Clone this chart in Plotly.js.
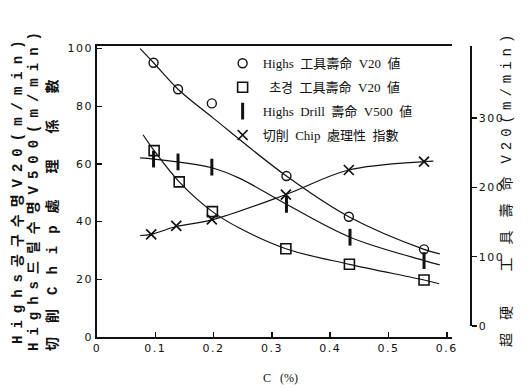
<!DOCTYPE html>
<html>
<head>
<meta charset="utf-8">
<script src="https://cdn.plot.ly/plotly-3.0.1.min.js"></script>
<style>
  html, body { margin: 0; padding: 0; background: #fff; }
  #chart { width: 528px; height: 388px; }
  .xtick text, .ytick text, .y2tick text { letter-spacing: 1.5px; }
</style>
</head>
<body>
<div id="chart"></div>
<script>
// Carbon content (%) of each steel grade, per measured series
const highsCarbon = [0.097, 0.139, 0.197, 0.325, 0.432, 0.561];
const carbideCarbon = [0.098, 0.141, 0.198, 0.324, 0.433, 0.561];
const drillCarbon = [0.097, 0.139, 0.197, 0.325, 0.434, 0.561];
const chipCarbon = [0.093, 0.136, 0.197, 0.324, 0.432, 0.561];

// Measured values
const highsToolLife = [95.1, 85.9, 81.0, 55.8, 41.7, 30.4];      // Highs tool life V20 (m/min)
const carbideToolLife = [253, 208, 165, 111.5, 89, 66.4];        // carbide tool life V20 (m/min), right axis
const drillLife = [61.7, 60.7, 58.9, 46.0, 34.6, 26.5];          // Highs drill life V500 (m/min)
const chipIndex = [35.6, 38.5, 40.8, 49.4, 57.9, 60.8];          // chip handling index

// Hand-drawn trend curves through each series
const highsCurveX = [0.074, 0.097, 0.139, 0.200, 0.325, 0.432, 0.561, 0.588];
const highsCurveY = [100, 95.1, 85.9, 75.8, 55.8, 41.7, 30.4, 28.8];
const carbideCurveX = [0.079, 0.098, 0.141, 0.198, 0.245, 0.324, 0.433, 0.561, 0.587];
const carbideCurveY = [276, 253, 208, 165, 141, 111.5, 89, 66.4, 61];
const drillCurveX = [0.074, 0.097, 0.139, 0.197, 0.245, 0.325, 0.434, 0.561, 0.588];
const drillCurveY = [62.1, 61.7, 60.7, 58.7, 55.0, 46.0, 34.6, 26.5, 25.0];
const chipCurveX = [0.074, 0.093, 0.136, 0.197, 0.324, 0.432, 0.561, 0.577];
const chipCurveY = [35.2, 35.6, 38.3, 40.6, 49.4, 57.9, 60.8, 61.0];

// Axis ticks and labels
const xTicks = [0, 0.1, 0.2, 0.3, 0.4, 0.5, 0.6];
const yTicks = [0, 20, 40, 60, 80, 100];
const y2Ticks = [0, 100, 200, 300];

const legendNames = [
  'Highs\u00a0\u00a0工具壽命\u00a0\u00a0V20\u00a0\u00a0値',
  '\u00a0\u00a0초경\u00a0\u00a0工具壽命\u00a0\u00a0V20\u00a0\u00a0値',
  'Highs\u00a0\u00a0Drill\u00a0\u00a0壽命\u00a0\u00a0V500\u00a0\u00a0値',
  '切削\u00a0\u00a0Chip\u00a0\u00a0處理性\u00a0\u00a0指數'
];

const ink = '#111';
const curveLine = { color: ink, width: 1.2, shape: 'spline', smoothing: 1 };

function curve(x, y, yaxis) {
  return { x, y, yaxis, type: 'scatter', mode: 'lines', line: curveLine,
           showlegend: false, hoverinfo: 'skip' };
}
function points(x, y, yaxis, name, group, marker) {
  return { x, y, yaxis, name, legendgroup: group, type: 'scatter', mode: 'markers',
           marker: Object.assign({ color: ink }, marker) };
}

const data = [
  curve(highsCurveX, highsCurveY, 'y'),
  curve(carbideCurveX, carbideCurveY, 'y2'),
  curve(drillCurveX, drillCurveY, 'y'),
  curve(chipCurveX, chipCurveY, 'y'),
  points(highsCarbon, highsToolLife, 'y', legendNames[0], 'a',
         { symbol: 'circle-open', size: 9, line: { color: ink, width: 1.4 } }),
  points(carbideCarbon, carbideToolLife, 'y2', legendNames[1], 'b',
         { symbol: 'square-open', size: 10, line: { color: ink, width: 1.6 } }),
  points(drillCarbon, drillLife, 'y', legendNames[2], 'c',
         { symbol: 'line-ns', size: 12, line: { color: ink, width: 3 } }),
  points(chipCarbon, chipIndex, 'y', legendNames[3], 'd',
         { symbol: 'x-thin-open', size: 10, line: { color: ink, width: 1.7 } })
];

const titleFont = { family: 'Liberation Mono, Noto Sans CJK KR, monospace', size: 14, color: ink, weight: 'bold' };
const tickFont = { family: 'DejaVu Sans, sans-serif', size: 11, color: ink };

function sideTitle(text, x, y, font) {
  return { text, xref: 'paper', yref: 'paper', x, y, xanchor: 'center', yanchor: 'middle',
           textangle: -90, showarrow: false, font };
}

const layout = {
  width: 528, height: 388,
  margin: { l: 97, r: 56, t: 46, b: 51 },
  paper_bgcolor: '#fff', plot_bgcolor: 'rgba(0,0,0,0)',
  showlegend: true,
  legend: {
    x: 0.335, y: 0.992, xanchor: 'left', yanchor: 'top',
    bgcolor: 'rgba(0,0,0,0)', tracegroupgap: 4,
    font: { family: 'Liberation Serif, Noto Sans CJK KR, serif', size: 13, color: ink }
  },
  xaxis: {
    domain: [0, 0.9467], range: [0, 0.609],
    tickvals: xTicks, ticks: 'inside', ticklen: 5, tickwidth: 1.5, tickcolor: ink,
    showline: true, linecolor: ink, linewidth: 1.6, mirror: true,
    showgrid: false, zeroline: false, tickfont: tickFont
  },
  yaxis: {
    range: [0, 100.9],
    tickvals: yTicks, ticks: 'inside', ticklen: 5, tickwidth: 1.5, tickcolor: ink,
    showline: true, linecolor: ink, linewidth: 1.8,
    showgrid: false, zeroline: false, tickfont: tickFont
  },
  yaxis2: {
    domain: [0.0378, 1], range: [0, 404],
    anchor: 'free', position: 0.994, side: 'right',
    tickvals: y2Ticks, ticks: 'outside', ticklen: 5, tickwidth: 1.5, tickcolor: ink,
    showline: true, linecolor: ink, linewidth: 1.8,
    showgrid: false, zeroline: false, tickfont: tickFont
  },
  annotations: [
    sideTitle('<span style="letter-spacing:7px">Highs공구수명V20(m/min)</span>',
              -0.2107, 0.512, titleFont),
    sideTitle('<span style="letter-spacing:7px">Highs드릴수명V500(m/min)</span>',
              -0.168, 0.512, titleFont),
    sideTitle('<span style="letter-spacing:14px">切削</span><span style="letter-spacing:12px">Chip</span><span style="letter-spacing:26px">處理係數</span>',
              -0.1173, 0.464, titleFont),
    sideTitle('<span style="letter-spacing:13px">超硬 工具壽命</span><span style="letter-spacing:5px">V20(m/min)</span>',
              1.0933, 0.512, Object.assign({}, titleFont, { weight: 'normal' })),
    { text: 'C\u00a0\u00a0\u00a0(%)',
      xref: 'paper', yref: 'paper', x: 0.488, y: -0.141, xanchor: 'center', yanchor: 'middle',
      showarrow: false, font: { family: 'Liberation Serif, serif', size: 12, color: ink } }
  ]
};

Plotly.newPlot('chart', data, layout, { staticPlot: true, displayModeBar: false });
</script>
</body>
</html>
